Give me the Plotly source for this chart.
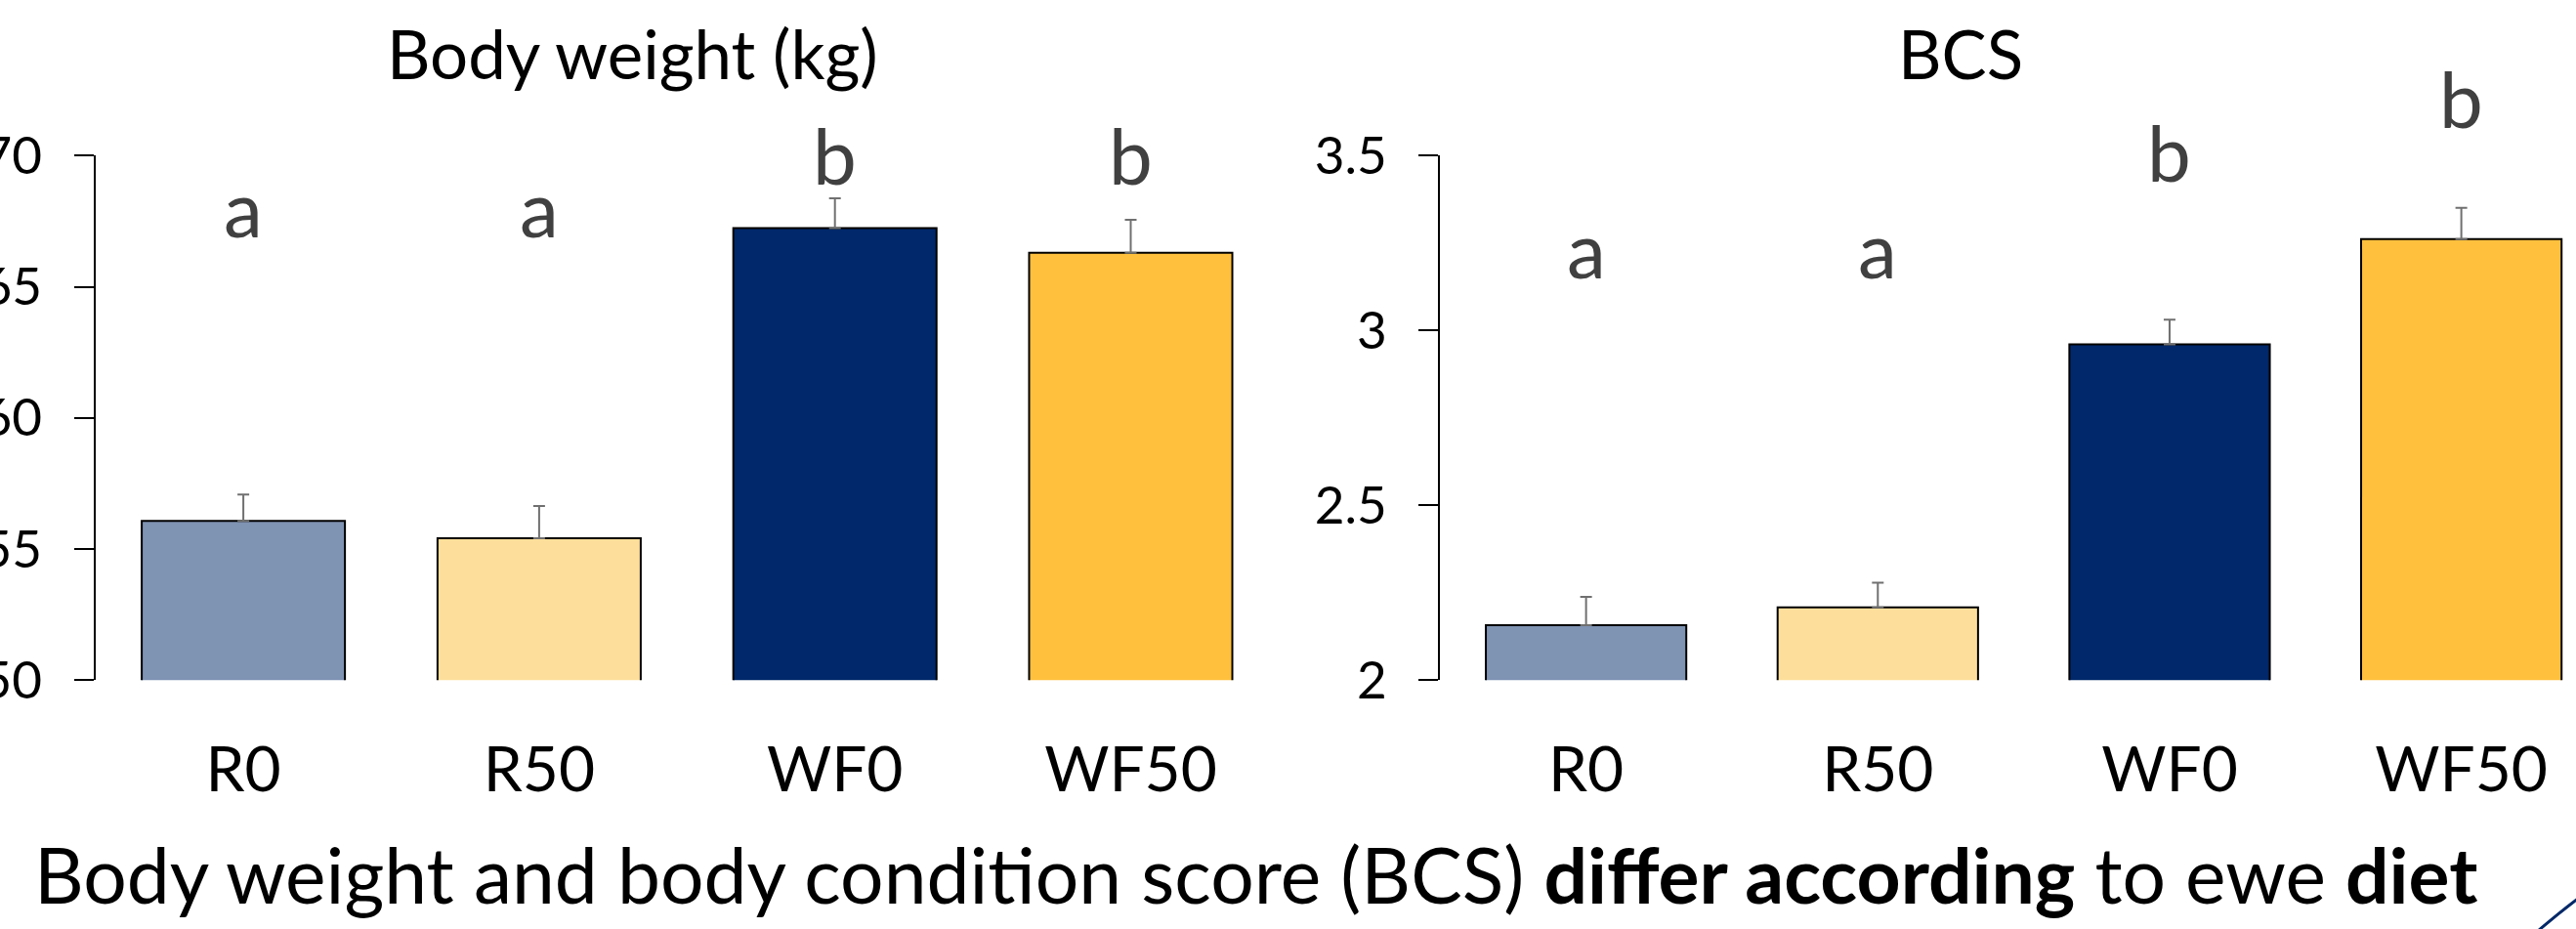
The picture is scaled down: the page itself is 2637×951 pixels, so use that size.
import plotly.graph_objects as go

# ---- data ----
groups = ["R0", "R50", "WF0", "WF50"]
bw_mean = [56.07, 55.41, 67.24, 66.30]
bw_se = [1.01, 1.23, 1.13, 1.25]
bw_letters = ["a", "a", "b", "b"]
bw_letter_y = [66.85, 66.85, 68.86, 68.86]
bw_ticks = [50, 55, 60, 65, 70]
bw_range = [50, 70]

bcs_mean = [2.157, 2.208, 2.960, 3.261]
bcs_se = [0.081, 0.071, 0.071, 0.090]
bcs_letters = ["a", "a", "b", "b"]
bcs_letter_y = [3.146, 3.146, 3.423, 3.576]
bcs_ticks = [2, 2.5, 3, 3.5]
bcs_range = [2, 3.5]

bar_colors = ["#7F93B3", "#FDDF9B", "#00286A", "#FFC03D"]

W, H = 2637, 951
FONT = "Lato"

def px_x(p):
    return p / W

def px_y(p):
    return 1 - p / H

fig = go.Figure()

err_style = dict(type="data", symmetric=False, color="#707070", thickness=2, width=6)

fig.add_trace(go.Bar(
    x=groups, y=bw_mean,
    marker=dict(color=bar_colors, line=dict(color="#000000", width=2)),
    error_y=dict(array=bw_se, arrayminus=[0] * len(bw_se), **err_style),
    xaxis="x", yaxis="y", showlegend=False,
))
fig.add_trace(go.Bar(
    x=groups, y=bcs_mean,
    marker=dict(color=bar_colors, line=dict(color="#000000", width=2)),
    error_y=dict(array=bcs_se, arrayminus=[0] * len(bcs_se), **err_style),
    xaxis="x2", yaxis="y2", showlegend=False,
))

y_top, y_bot = 159.3, 696.3
ydom = [px_y(y_bot), px_y(y_top)]

xcommon = dict(
    type="category", showline=False, ticks="", showgrid=False, zeroline=False,
    automargin=False,
    tickfont=dict(family=FONT, size=64, color="#000000"),
    ticklabelstandoff=49,
)
ycommon = dict(
    showline=True, linecolor="#000000", linewidth=2,
    ticks="outside", ticklen=20, tickwidth=2, tickcolor="#000000",
    showgrid=False, zeroline=False, automargin=False,
    tickfont=dict(family=FONT, size=53, color="#000000"),
    ticklabelstandoff=22,
)

fig.update_layout(
    width=W, height=H,
    margin=dict(l=0, r=0, t=0, b=0, pad=0, autoexpand=False),
    paper_bgcolor="#FFFFFF", plot_bgcolor="#FFFFFF",
    bargap=0.313,
    font=dict(family=FONT),
    xaxis=dict(domain=[px_x(97.7), px_x(1308.9)], range=[-0.5, 3.5], anchor="y", **xcommon),
    xaxis2=dict(domain=[px_x(1474.3), 1.0], range=[-0.5, 3.393], anchor="y2", **xcommon),
    yaxis=dict(domain=ydom, range=bw_range, tickvals=bw_ticks, anchor="x", **ycommon),
    yaxis2=dict(domain=ydom, range=bcs_range, tickvals=bcs_ticks, anchor="x2", **ycommon),
)

letter_font = dict(family=FONT, size=80, color="#404040")
annotations = []
for g, t, yv in zip(groups, bw_letters, bw_letter_y):
    frac = (yv - bw_range[0]) / (bw_range[1] - bw_range[0])
    annotations.append(dict(x=g, y=frac, xref="x", yref="y domain", text=t, showarrow=False,
                            yanchor="bottom", yshift=-18, font=letter_font))
for g, t, yv in zip(groups, bcs_letters, bcs_letter_y):
    frac = (yv - bcs_range[0]) / (bcs_range[1] - bcs_range[0])
    annotations.append(dict(x=g, y=frac, xref="x2", yref="y2 domain", text=t, showarrow=False,
                            yanchor="bottom", yshift=-18, font=letter_font))

annotations.append(dict(x=px_x(647), y=px_y(83.3), xref="paper", yref="paper",
                        text="Body weight (kg)", showarrow=False, xanchor="center",
                        yanchor="bottom", yshift=-15,
                        font=dict(family=FONT, size=69, color="#000000")))
annotations.append(dict(x=px_x(2007), y=px_y(83.3), xref="paper", yref="paper",
                        text="BCS", showarrow=False, xanchor="center",
                        yanchor="bottom", yshift=-15,
                        font=dict(family=FONT, size=69, color="#000000")))
annotations.append(dict(x=px_x(33), y=px_y(927), xref="paper", yref="paper",
                        text="Body weight and body condition score (BCS) <b>differ according</b> to ewe <b>diet</b>",
                        showarrow=False, xanchor="left",
                        yanchor="bottom", yshift=-17,
                        font=dict(family=FONT, size=78.6, color="#000000")))
fig.update_layout(annotations=annotations)

# decorative arc in the bottom-right corner
fig.add_shape(type="path", xref="paper", yref="paper",
              path=f"M {px_x(2598)} {px_y(953)} Q {px_x(2620)} {px_y(934)} {px_x(2640)} {px_y(919)}",
              line=dict(color="#002868", width=3))

fig.write_html("out.html", config={"displayModeBar": False},
               post_script="document.body.style.margin='0';")
